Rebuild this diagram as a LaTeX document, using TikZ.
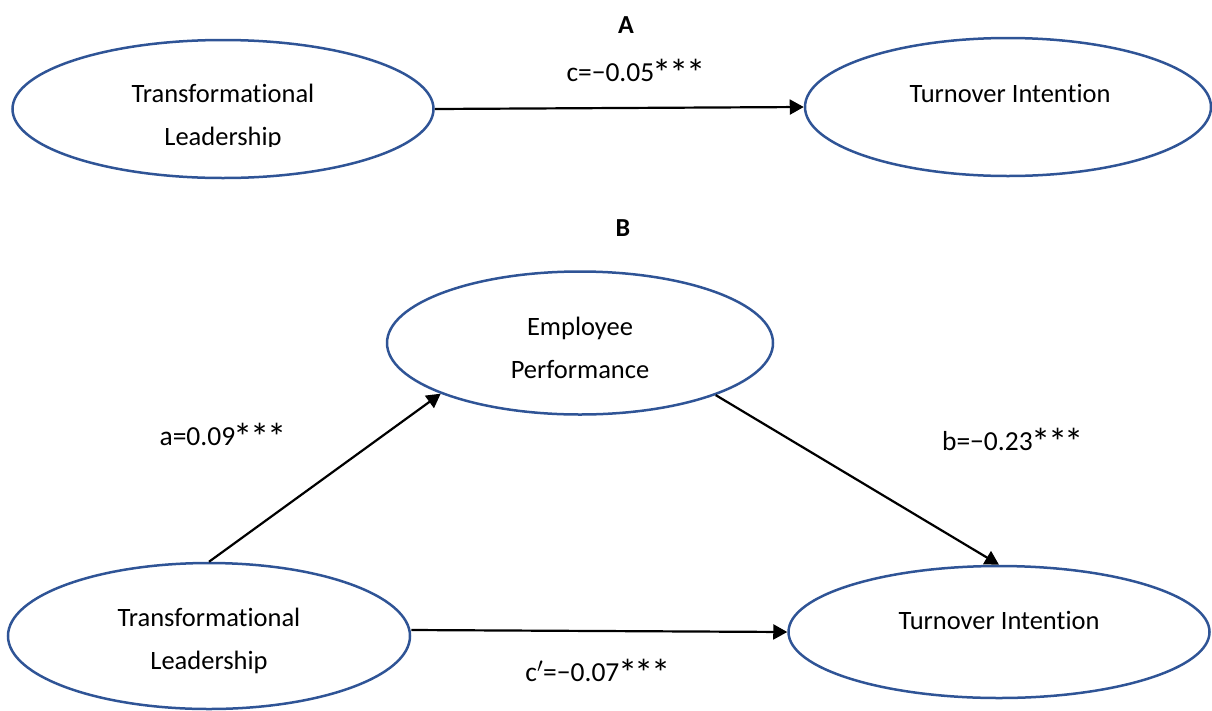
\documentclass[tikz,border=0pt]{standalone}
\usepackage{fontspec}
\usepackage{graphicx}
\setmainfont{Carlito}[Ligatures=NoCommon]
\usetikzlibrary{shapes.geometric,arrows.meta}
\definecolor{ellblue}{RGB}{47,84,150}
\newcommand\onestar{\raisebox{-0.2em}{\scalebox{1.4}{*}}}
\newcommand\sigstars{\kern-0.05em\onestar\kern-0.09em\onestar\kern-0.09em\onestar}
\tikzset{
  latent/.style={ellipse, draw=ellblue, line width=2.5pt, inner sep=0pt},
  txt/.style={font=\fontsize{26.5}{43}\selectfont, align=center, inner sep=0pt},
  lbl/.style={font=\fontsize{27.5}{33}\selectfont, inner sep=0pt},
  ttl/.style={font=\fontsize{26}{30}\selectfont\bfseries, inner sep=0pt},
  path/.style={draw=black, line width=2.2pt, -{Triangle[length=14pt,width=15pt]}}
}
\begin{document}
\begin{tikzpicture}[x=1pt,y=-1pt]
\useasboundingbox (0,0) rectangle (1212,710);
% Panel A
\node[ttl] (titleA) at (626,25) {A};
\node[latent, minimum width=421pt, minimum height=138pt] (tlA) at (223,109) {};
\node[latent, minimum width=406pt, minimum height=138pt] (tiA) at (1008,107) {};
\begin{scope}
\clip (0,0) rectangle (1212,146);
\node[txt] (tlAt) at (223,117) {Transformational\\Leadership};
\end{scope}
\node[txt] (tiAt) at (1010,93) {Turnover Intention};
\draw[path] (tlA.east) -- (tiA.west);
\node[lbl] (cA) at (636,73) {c=−0.05\sigstars};
% Panel B
\node[ttl] (titleB) at (623,228) {B};
\node[latent, minimum width=386pt, minimum height=143pt] (ep) at (580,343) {};
\node[latent, minimum width=402pt, minimum height=146pt] (tlB) at (209,636) {};
\node[latent, minimum width=421pt, minimum height=132pt] (tiB) at (999,632) {};
\node[txt] (ept) at (580,348) {Employee\\Performance};
\node[txt] (tlBt) at (209,641) {Transformational\\Leadership};
\node[txt] (tiBt) at (999,620) {Turnover Intention};
\draw[path] (tlB.north) -- (ep.200);
\draw[path] (ep.339) -- (tiB.north);
\draw[path] ([yshift=6pt]tlB.east) -- (tiB.west);
\node[lbl] (aB) at (223,437) {a=0.09\sigstars};
\node[lbl] (bB) at (1013,442) {b=−0.23\sigstars};
\node[lbl] (cB) at (598,673) {c\textsuperscript{$\prime$}=−0.07\sigstars};
\end{tikzpicture}
\end{document}
